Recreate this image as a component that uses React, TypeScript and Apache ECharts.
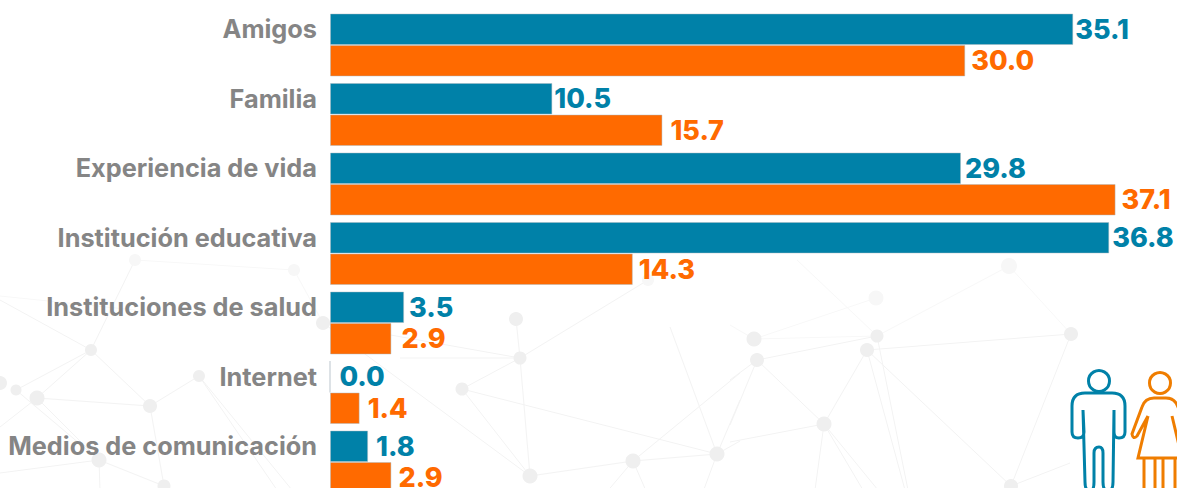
import React, { useEffect, useRef } from "react";
import * as echarts from "echarts";

const categories = [
  "Amigos",
  "Familia",
  "Experiencia de vida",
  "Institución educativa",
  "Instituciones de salud",
  "Internet",
  "Medios de comunicación",
];
const hombres = [35.1, 10.5, 29.8, 36.8, 3.5, 0.0, 1.8];
const mujeres = [30.0, 15.7, 37.1, 14.3, 2.9, 1.4, 2.9];

// Gap in pixels between each bar's end and its value label.
const hombresLabelGap = [2, 2, 4, 3, 5, 9, 8];
const mujeresLabelGap = [6, 8, 6, 6, 10, 8, 7];

const BLUE = "#0081A8";
const ORANGE = "#FF6A00";
const ICON_ORANGE = "#EF7D00";

// Faint network drawn behind the chart.
const nodes: [number, number, number][] = [
  [0, 383, 7], [16, 390, 5.5], [37, 398, 7.5], [91, 350, 6], [150, 406, 7], [199, 376, 6], [99, 460, 7.5], [164, 486, 6.5],
  [135, 260, 6], [294, 270, 6], [323, 323, 7], [516, 319, 7], [520, 358, 6.5], [462, 389, 6.5], [530, 476, 7.5],
  [633, 461, 7.5], [717, 454, 7.5], [648, 280, 6], [754, 339, 7.5], [757, 360, 7], [824, 424, 7.5], [876, 298, 7.5],
  [877, 336, 6.5], [867, 350, 7], [1071, 334, 7], [1011, 486, 7], [1009, 266, 8],
];
const edges: [number, number][] = [
  [3, 4], [3, 1], [3, 2], [2, 4], [4, 5], [4, 7], [2, 6], [1, 6], [6, 7], [8, 3], [8, 9], [9, 10],
  [13, 12], [11, 12], [13, 16], [13, 14], [12, 14], [14, 15], [15, 16], [10, 14], [12, 17], [10, 12],
  [18, 22], [19, 22], [18, 21], [23, 24], [22, 26], [23, 20], [19, 20], [24, 25], [24, 26],
];
const strays: [number, number, number, number][] = [
  [99, 460, 0, 473], [99, 460, 100, 490], [37, 398, 0, 427], [199, 376, 277, 490], [199, 376, 292, 490],
  [91, 350, 0, 300], [135, 310, 0, 296], [400, 358, 520, 358], [633, 461, 740, 373], [717, 454, 740, 441],
  [717, 454, 740, 400], [717, 454, 670, 327], [633, 461, 600, 500], [717, 454, 700, 500], [633, 461, 650, 500],
  [754, 339, 730, 325], [757, 360, 730, 380], [757, 360, 730, 425], [824, 424, 730, 442], [824, 424, 815, 490],
  [824, 424, 863, 490], [824, 424, 878, 490], [867, 350, 1011, 486], [867, 350, 905, 490], [877, 336, 908, 490],
  [1011, 486, 1070, 463], [797, 260, 873, 332],
];

const manBody =
  "M1083 410 L1084 432 Q1084 438 1078 438 Q1072 438 1072 432 L1072 406 Q1072 393 1085 393 L1112 393 Q1125 393 1125 406 L1125 432 Q1125 438 1119 438 Q1114 438 1114 432 L1114 410 L1113 482 Q1113 491 1108 491 Q1103 491 1103 482 L1103 453 Q1103 447 1099 447 Q1094 447 1094 453 L1094 482 Q1094 491 1090 491 Q1085 491 1085 482 Z";
const womanBody =
  "M1148 416 L1138 458 L1182 458 L1172 416 M1148 416 L1137 436 Q1133 440 1132 434 L1142 407 Q1145 398 1154 398 L1166 398 Q1175 398 1178 407 L1188 434 M1144 458 L1144 490 L1155 490 L1155 458 M1163 458 L1163 490 L1175 490 L1175 458";

let shapesRegistered = false;
function registerIcons() {
  if (shapesRegistered) return;
  echarts.graphic.registerShape("manBody", echarts.graphic.extendPath(manBody, {}));
  echarts.graphic.registerShape("womanBody", echarts.graphic.extendPath(womanBody, {}));
  shapesRegistered = true;
}

function seriesData(values: number[], gaps: number[]) {
  return values.map((value, i) => ({ value, label: { distance: gaps[i] } }));
}

export default function App() {
  const ref = useRef<HTMLDivElement>(null);
  useEffect(() => {
    if (!ref.current) return;
    registerIcons();
    const chart = echarts.init(ref.current, undefined, { renderer: "svg" });
    const decor: any[] = [];
    const line = (x1: number, y1: number, x2: number, y2: number) =>
      decor.push({
        type: "line",
        silent: true,
        z: -10,
        shape: { x1, y1, x2, y2 },
        style: { stroke: Math.max(y1, y2) < 345 ? "#f8f8f8" : "#f3f3f3", lineWidth: 1 },
      });
    edges.forEach(([a, b]) => line(nodes[a][0], nodes[a][1], nodes[b][0], nodes[b][1]));
    strays.forEach(([x1, y1, x2, y2]) => line(x1, y1, x2, y2));
    nodes.forEach(([x, y, r]) => {
      decor.push({
        type: "circle",
        silent: true,
        z: -9,
        shape: { cx: x, cy: y, r },
        style: { fill: y < 310 ? "#f7f7f7" : "#efefef" },
      });
    });
    decor.push(
      { type: "circle", z: 5, silent: true, shape: { cx: 1099, cy: 381, r: 10.5 }, style: { fill: "none", stroke: BLUE, lineWidth: 3 } },
      { type: "manBody", z: 5, silent: true, style: { fill: "none", stroke: BLUE, lineWidth: 3 } },
      { type: "circle", z: 5, silent: true, shape: { cx: 1160, cy: 383, r: 10.5 }, style: { fill: "none", stroke: ICON_ORANGE, lineWidth: 3 } },
      { type: "womanBody", z: 5, silent: true, style: { fill: "none", stroke: ICON_ORANGE, lineWidth: 3 } }
    );
    const labelFont = { fontFamily: "Inter", fontWeight: 800, fontSize: 27, lineHeight: 20 };
    const itemStyle = { borderColor: "rgba(170,185,190,0.45)", borderWidth: 1 };
    chart.setOption({
      animation: false,
      backgroundColor: "#ffffff",
      graphic: { elements: decor },
      grid: { left: 330, top: 10.25, width: 847, height: 486.5, containLabel: false },
      xAxis: { type: "value", min: 0, max: 40, show: false },
      yAxis: {
        type: "category",
        inverse: true,
        data: categories,
        axisLine: { show: false },
        axisTick: { show: false },
        splitLine: { show: false },
        axisLabel: {
          color: "#858585",
          fontFamily: "Inter",
          fontWeight: 700,
          fontSize: 25.3,
          margin: 13,
          verticalAlign: "bottom",
          lineHeight: 33,
          interval: 0,
        },
      },
      series: [
        {
          type: "bar",
          name: "Hombres",
          data: seriesData(hombres, hombresLabelGap),
          barWidth: 31.5,
          barGap: 0,
          itemStyle: { color: BLUE, ...itemStyle },
          label: { show: true, position: "right", color: BLUE, formatter: (p: any) => p.value.toFixed(1), ...labelFont },
        },
        {
          type: "bar",
          name: "Mujeres",
          data: seriesData(mujeres, mujeresLabelGap),
          barWidth: 31.5,
          barGap: 0,
          itemStyle: { color: ORANGE, ...itemStyle },
          label: { show: true, position: "right", color: ORANGE, formatter: (p: any) => p.value.toFixed(1), ...labelFont },
        },
      ],
    });
    return () => chart.dispose();
  }, []);
  return (
    <div style={{ position: "fixed", left: 0, top: 0, width: 1177, height: 488, overflow: "hidden", background: "#fff" }}>
      <div ref={ref} style={{ width: 1177, height: 510 }} />
    </div>
  );
}
